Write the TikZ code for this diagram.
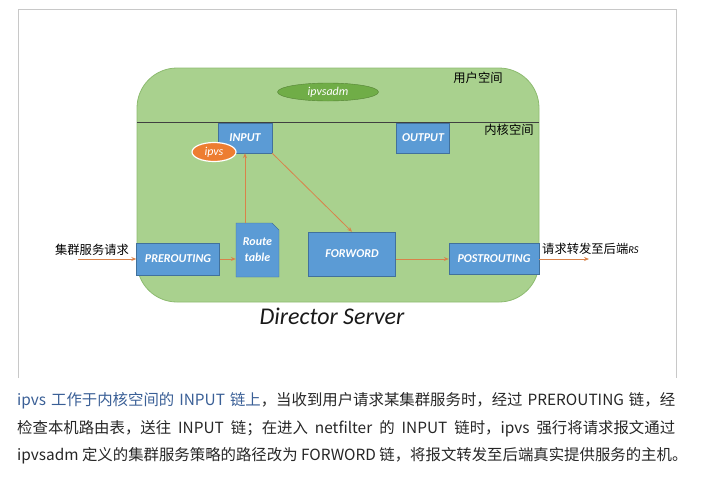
\documentclass[tikz,border=0pt]{standalone}
\usepackage{fontspec}
\setmainfont{Carlito}
\newfontfamily\cjk{Noto Sans CJK SC}
\usetikzlibrary{arrows.meta,shapes.geometric}
\definecolor{boxblue}{HTML}{5B9BD5}
\definecolor{boxline}{HTML}{41719C}
\definecolor{srvgreen}{HTML}{A9D18E}
\definecolor{srvline}{HTML}{8DBB70}
\definecolor{admgreen}{HTML}{70AD47}
\definecolor{admline}{HTML}{548235}
\definecolor{ipvsorange}{HTML}{ED7D31}
\definecolor{flowc}{HTML}{D9824A}
\definecolor{capblue}{HTML}{3A5F96}
\definecolor{frame}{HTML}{C8C8C8}

\begin{document}
\begin{tikzpicture}[x=1pt,y=-1pt,
  chain/.style={draw=boxline,fill=boxblue,text=white,inner sep=0pt,
    font=\fontsize{12}{14}\selectfont\bfseries\itshape},
  flow/.style={draw=flowc,line width=0.8pt,-{Stealth[length=5pt,width=4pt]}},
  lbl/.style={font=\cjk\fontsize{12.3}{14}\selectfont,inner sep=0pt},
  capline/.style={anchor=base west,inner sep=0pt,text=black!85,
    font=\cjk\fontsize{15.4}{18}\selectfont}]
\useasboundingbox (0,0) rectangle (701,477);

% frame of the screenshot
\draw[frame,line width=0.8pt] (18,378) -- (18,9) -- (676,9) -- (676,378);

% server and the user/kernel split
\draw[draw=srvline,fill=srvgreen,line width=0.8pt,rounded corners=40pt]
  (137,68) rectangle (539,302);
\draw[black!75,line width=1pt] (137,122) -- (539,122);
\node[lbl] (user) at (478,78) {用户空间};
\node[lbl] (kernel) at (509,130) {内核空间};

\node[draw=admline,fill=admgreen,ellipse,minimum width=101pt,minimum height=18pt,
  inner sep=0pt,text=white,font=\fontsize{12}{14}\selectfont\itshape]
  (ipvsadm) at (328,92) {ipvsadm};

% chains
\node[chain,minimum width=54pt,minimum height=30pt] (input) at (245,138) {INPUT};
\node[chain,minimum width=53pt,minimum height=30pt] (output) at (423,138) {OUTPUT};
\node[chain,minimum width=83pt,minimum height=32pt] (pre) at (178,259) {PREROUTING};
\node[chain,minimum width=87pt,minimum height=44pt] (fwd) at (352,254) {FORWORD};
\node[chain,minimum width=90pt,minimum height=31pt] (post) at (494,259) {POSTROUTING};

\draw[draw=boxline,fill=boxblue] (236,277) -- (236,223) -- (272,223) -- (279,230)
  -- (279,277) -- cycle;
\node[text=white,align=center,inner sep=0pt,minimum width=43pt,minimum height=54pt,
  font=\fontsize{12}{16}\selectfont\bfseries\itshape] (route) at (257.5,250) {Route\\table};

\node[draw=white,line width=1.2pt,fill=ipvsorange,ellipse,minimum width=44pt,
  minimum height=19pt,inner sep=0pt,text=white,
  font=\fontsize{12}{14}\selectfont\itshape] (ipvs) at (214,152) {ipvs};

% packet path
\coordinate (in) at (78,259);
\coordinate (out) at (589,259);
\node[lbl] (req) at (92,250) {集群服务请求};
\node[lbl,anchor=west] (fwdreq) at (542,249)
  {请求转发至后端{\rmfamily\itshape\fontsize{10.5}{12}\selectfont RS}};

\draw[flow] (in) -- (pre);
\draw[flow] (pre) -- (route.west |- pre.east);
\draw[flow] (input.south |- route.north) -- (input.south);
\draw[flow] (input.south east) -- (fwd.north);
\draw[flow] (fwd.east |- post.west) -- (post.west);
\draw[flow] (post.east) -- (out);

\node[font=\fontsize{24}{28}\selectfont\itshape,text=black!90] (server) at (332,316)
  {Director Server};

% caption
\node[capline] (cap1) at (17,405) {\makebox[658pt][s]{{\color{capblue}ipvs 工作于内核空间的 INPUT 链上}，当收到用户请求某集群服务时，经过 PREROUTING 链，经}};
\node[capline] (cap2) at (17,433) {\makebox[658pt][s]{检查本机路由表，送往 INPUT 链；在进入 netfilter 的 INPUT 链时，ipvs 强行将请求报文通过}};
\node[capline] (cap3) at (17,460) {ipvsadm 定义的集群服务策略的路径改为 FORWORD 链，将报文转发至后端真实提供服务的主机。};
\end{tikzpicture}
\end{document}
